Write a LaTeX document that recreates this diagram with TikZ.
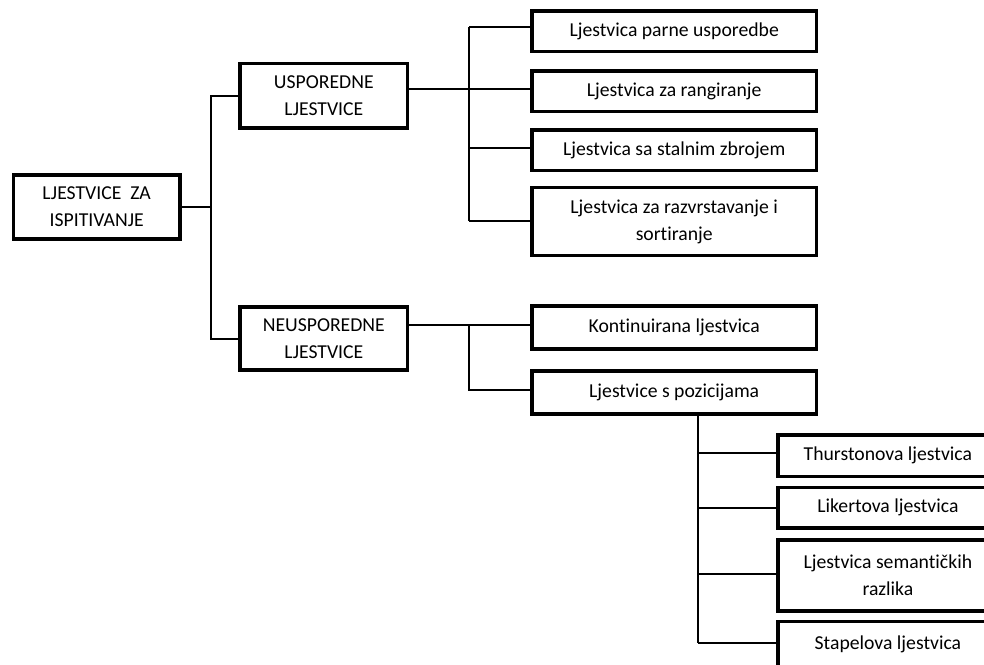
\documentclass[tikz,border=0pt]{standalone}
\usepackage{fontspec}
\setmainfont{Carlito}[Ligatures={NoCommon}]
\begin{document}
\begin{tikzpicture}[x=1pt,y=-1pt,
  box/.style={draw=black, line width=3.7pt, rectangle, inner sep=0pt, align=center,
    font=\fontsize{19.7}{27}\selectfont, text=black},
  conn/.style={draw=black, line width=2.2pt}]
\useasboundingbox (0,0) rectangle (984,664);
\clip (0,0) rectangle (984,664);
% level 0
\node[box, minimum width=166.5pt, minimum height=64pt] (root) at (96.7,207) {LJESTVICE\ \ ZA\\ISPITIVANJE};
% level 1
\node[box, minimum width=167.5pt, minimum height=64.7pt] (usp) at (323.8,95.9) {USPOREDNE\\LJESTVICE};
\node[box, minimum width=167.5pt, minimum height=63pt] (neu) at (323.8,338.8) {NEUSPOREDNE\\LJESTVICE};
% level 2
\node[box, minimum width=284.7pt, minimum height=40.5pt] (b1) at (674.2,31.3) {Ljestvica parne usporedbe};
\node[box, minimum width=284.7pt, minimum height=40.7pt] (b2) at (674.2,91.2) {Ljestvica za rangiranje};
\node[box, minimum width=284.7pt, minimum height=40.5pt] (b3) at (674.2,150.3) {Ljestvica sa stalnim zbrojem};
\node[box, minimum width=284.7pt, minimum height=68pt] (b4) at (674.2,221.5) {Ljestvica za razvrstavanje i\\sortiranje};
\node[box, minimum width=284.7pt, minimum height=43pt] (k) at (674.2,327.3) {Kontinuirana ljestvica};
\node[box, minimum width=284.7pt, minimum height=43.5pt] (p) at (674.2,392.5) {Ljestvice s pozicijama};
% level 3
\node[box, minimum width=220pt, minimum height=41.5pt] (t) at (887.9,455.8) {Thurstonova ljestvica};
\node[box, minimum width=220pt, minimum height=40.8pt] (l) at (887.9,507.8) {Likertova ljestvica};
\node[box, minimum width=220pt, minimum height=70.8pt] (s) at (887.9,575.5) {Ljestvica semantičkih\\razlika};
\node[box, minimum width=220pt, minimum height=45pt] (st) at (887.9,644) {Stapelova ljestvica};
% junctions
\coordinate (j0) at (210.7,207);
\coordinate (ju) at (469.3,89);
\coordinate (ju1) at (469.3,27.3);
\coordinate (ju2) at (469.3,89);
\coordinate (ju3) at (469.3,147.7);
\coordinate (ju4) at (469.3,220.7);
\coordinate (jn) at (469.3,325);
\coordinate (jn2) at (469.3,390);
\coordinate (jp1) at (697.8,452.7);
\coordinate (jp2) at (697.8,508.3);
\coordinate (jp3) at (697.8,574);
\coordinate (jp4) at (697.8,642.7);
% connectors
\draw[conn] (root.east) -- (j0);
\draw[conn] (j0) |- (usp.west);
\draw[conn] (j0) |- (neu.west);
\draw[conn] (usp.east |- ju) -- (ju);
\draw[conn] (ju1) -- (ju4);
\draw[conn] (ju1) -- (b1.west |- ju1);
\draw[conn] (ju2) -- (b2.west |- ju2);
\draw[conn] (ju3) -- (b3.west |- ju3);
\draw[conn] (ju4) -- (b4.west |- ju4);
\draw[conn] (neu.east |- jn) -- (k.west |- jn);
\draw[conn] (jn) -- (jn2) -- (p.west |- jn2);
\draw[conn] (p.south -| jp1) -- (jp4);
\draw[conn] (jp1) -- (t.west |- jp1);
\draw[conn] (jp2) -- (l.west |- jp2);
\draw[conn] (jp3) -- (s.west |- jp3);
\draw[conn] (jp4) -- (st.west |- jp4);
\end{tikzpicture}
\end{document}
